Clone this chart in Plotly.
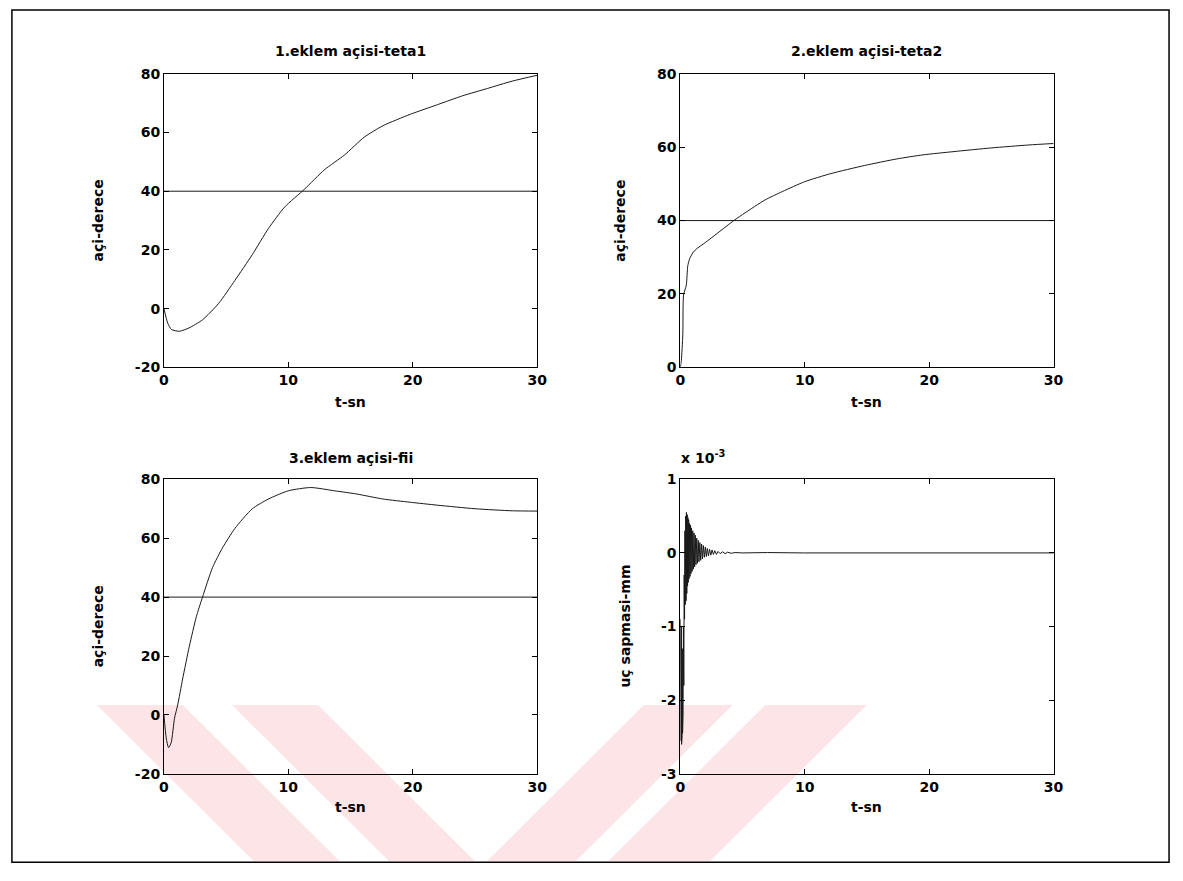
import plotly.graph_objects as go

# ---------------- data ----------------
t1 = [0, 0.3, 0.6, 1.25, 2.0, 3.1, 4.4, 5.7, 7.1, 8.4, 9.7, 11.3, 12.9, 14.5, 16.1, 17.6, 19.8, 22, 24, 26, 28, 30]
teta1 = [0, -4.9, -7.1, -7.7, -6.6, -3.8, 1.8, 9.6, 18.4, 27.3, 34.6, 40.7, 47.3, 52.3, 58.4, 62.3, 66.2, 69.5, 72.5, 75.0, 77.5, 79.5]

t2 = [0, 0.08, 0.2, 0.26, 0.48, 0.6, 0.74, 1.0, 1.27, 2.0, 3.0, 4.3, 5.2, 6.8, 8.2, 10, 12.1, 14.8, 17.4, 19.5, 22, 25, 28, 30]
teta2 = [0, 1.8, 9, 19.7, 22.4, 27.7, 29.5, 31.2, 32.2, 34.0, 36.6, 40.0, 42.1, 45.6, 47.9, 50.6, 52.8, 55, 56.8, 57.9, 58.8, 59.8, 60.6, 61]

t3 = [0, 0.18, 0.37, 0.58, 0.85, 1.1, 1.5, 2.04, 2.6, 3.1, 3.9, 4.7, 5.7, 7.1, 8.4, 10, 11.8, 13.7, 15.5, 17.6, 19.8, 22, 25, 28, 30]
fii = [0, -7.8, -11.1, -9.4, -1.1, 3.3, 12.2, 23.3, 33.3, 40, 50, 56.7, 63.3, 70, 73.3, 76.1, 77.2, 76.1, 75, 73.3, 72.2, 71.2, 70, 69.3, 69.2]

# tip deviation, in units of 1e-3
t4 = [0.00, 0.02, 0.04, 0.06, 0.08, 0.10, 0.12, 0.14, 0.16, 0.18, 0.20, 0.22, 0.25, 0.28,
      0.31, 0.34, 0.37, 0.40, 0.43, 0.46, 0.49, 0.52, 0.55, 0.58, 0.61, 0.64, 0.67, 0.70,
      0.74, 0.78, 0.82, 0.86, 0.90, 0.95, 1.00, 1.05, 1.10, 1.15, 1.20, 1.26, 1.32, 1.38,
      1.44, 1.50, 1.57, 1.64, 1.71, 1.78, 1.85, 1.93, 2.01, 2.09, 2.17, 2.26, 2.35, 2.45,
      2.55, 2.66, 2.77, 2.90, 3.03, 3.20, 3.40, 3.60, 3.80, 4.10, 4.40, 5.00, 7.00, 9.50, 10.0, 30.0]
sapma = [-0.90, -2.40, -1.10, -2.55, -1.00, -2.60, -1.20, -2.50, -1.30, -2.45, -1.50, -2.20, -1.00, -1.80,
         -0.30, -0.90, 0.30, -0.70, 0.50, -0.65, 0.55, -0.55, 0.52, -0.45, 0.48, -0.40, 0.45, -0.35,
         0.40, -0.32, 0.38, -0.28, 0.34, -0.25, 0.30, -0.22, 0.27, -0.19, 0.24, -0.16, 0.20, -0.14,
         0.17, -0.12, 0.14, -0.10, 0.12, -0.08, 0.10, -0.06, 0.08, -0.05, 0.06, -0.04, 0.05, -0.03,
         0.04, -0.02, 0.03, -0.02, 0.02, -0.01, 0.015, -0.01, 0.01, -0.005, 0.005, 0.0, 0.005, 0.0, 0.0, 0.0]

ref_t = [0, 30]
ref_val = [40, 40]

x_ticks = [0, 10, 20, 30]
y_ticks_a = [-20, 0, 20, 40, 60, 80]
y_ticks_b = [0, 20, 40, 60, 80]
y_ticks_c = [-3, -2, -1, 0, 1]

titles = ["1.eklem açisi-teta1", "2.eklem açisi-teta2", "3.eklem açisi-fii"]

# ---------------- figure ----------------
W, H = 1183, 881
FONT = dict(family="DejaVu Sans", size=14, color="black", weight="bold")
LINE = dict(color="#1a1a1a", width=1)

def px(x):
    return x / W

def py(y):
    return 1 - y / H

def lab(v):
    return [str(i) for i in v]  # plain hyphen minus, as in the original

fig = go.Figure()

series = [(t1, teta1, "x", "y"), (t2, teta2, "x2", "y2"), (t3, fii, "x3", "y3")]
for tt, vv, xa, ya in series:
    fig.add_trace(go.Scatter(x=ref_t, y=ref_val, mode="lines", line=LINE, xaxis=xa, yaxis=ya, showlegend=False))
    fig.add_trace(go.Scatter(x=tt, y=vv, mode="lines", line=dict(LINE, shape="spline", smoothing=0.6),
                             xaxis=xa, yaxis=ya, showlegend=False))
fig.add_trace(go.Scatter(x=t4, y=sapma, mode="lines", line=LINE, xaxis="x4", yaxis="y4", showlegend=False))

L = (161, 539)
R = (684, 1062)
T = (67, 366)
B = (480, 780)

common = dict(showline=True, linecolor="black", linewidth=1, mirror="ticks", ticks="inside",
              ticklen=5, tickcolor="black", showgrid=False, zeroline=False, tickfont=FONT,
              tickmode="array")

def xdom(c):
    return [px(c[0]), px(c[1])]

def ydom(r):
    return [py(r[1]), py(r[0])]

xa_common = dict(range=[0, 30], tickvals=x_ticks, ticktext=lab(x_ticks), **common)

layout = dict(
    width=W, height=H, margin=dict(l=0, r=0, t=0, b=0),
    paper_bgcolor="white", plot_bgcolor="rgba(255,255,255,0)", showlegend=False,
    xaxis=dict(domain=xdom(L), anchor="y", **xa_common),
    yaxis=dict(domain=ydom(T), anchor="x", range=[-20, 80], tickvals=y_ticks_a, ticktext=lab(y_ticks_a), **common),
    xaxis2=dict(domain=xdom(R), anchor="y2", **xa_common),
    yaxis2=dict(domain=ydom(T), anchor="x2", range=[0, 80], tickvals=y_ticks_b, ticktext=lab(y_ticks_b), **common),
    xaxis3=dict(domain=xdom(L), anchor="y3", **xa_common),
    yaxis3=dict(domain=ydom(B), anchor="x3", range=[-20, 80], tickvals=y_ticks_a, ticktext=lab(y_ticks_a), **common),
    xaxis4=dict(domain=xdom(R), anchor="y4", **xa_common),
    yaxis4=dict(domain=ydom(B), anchor="x4", range=[-3, 1], tickvals=y_ticks_c, ticktext=lab(y_ticks_c), **common),
)
fig.update_layout(**layout)

ann = []
def add_text(text, x, y, angle=0, xanchor="center", yanchor="middle"):
    ann.append(dict(text=text, x=px(x), y=py(y), xref="paper", yref="paper", showarrow=False,
                    font=FONT, textangle=angle, xanchor=xanchor, yanchor=yanchor))

add_text(titles[0], (L[0] + L[1]) / 2, 44)
add_text(titles[1], (R[0] + R[1]) / 2, 44)
add_text(titles[2], (L[0] + L[1]) / 2, 458)
for cx in [(L[0] + L[1]) / 2, (R[0] + R[1]) / 2]:
    add_text("t-sn", cx, 401)
    add_text("t-sn", cx, 814)
add_text("açi-derece", 94, (T[0] + T[1]) / 2, -90)
add_text("açi-derece", 622, (T[0] + T[1]) / 2, -90)
add_text("açi-derece", 94, (B[0] + B[1]) / 2, -90)
add_text("uç sapmasi-mm", 628, (B[0] + B[1]) / 2, -90)
add_text("x 10<sup>-3</sup>", 683, 468, xanchor="left", yanchor="bottom")

fig.update_layout(annotations=ann)

shapes = []
# faint watermark stripes (scanned thesis page) behind everything
PINK = "#fce4e7"
def stripe(xt0, xt1, shift, ytop=710, ybot=869):
    d = ybot - ytop
    path = "M {a},{b} L {c},{b} L {e},{f} L {g},{f} Z".format(
        a=px(xt0), b=py(ytop), c=px(xt1), e=px(xt1 + shift * d), f=py(ybot), g=px(xt0 + shift * d))
    shapes.append(dict(type="path", path=path, xref="paper", yref="paper", fillcolor=PINK,
                       line=dict(width=0), layer="below"))

stripe(93, 180, 1)
stripe(230, 317, 1)
stripe(647, 737, -1)
stripe(770, 873, -1)

# outer frame
shapes.append(dict(type="rect", xref="paper", yref="paper", x0=px(7), x1=px(1179), y0=py(870), y1=py(2),
                   line=dict(color="black", width=1.5), fillcolor="rgba(0,0,0,0)"))
fig.update_layout(shapes=shapes)

fig.write_html("out.html")
